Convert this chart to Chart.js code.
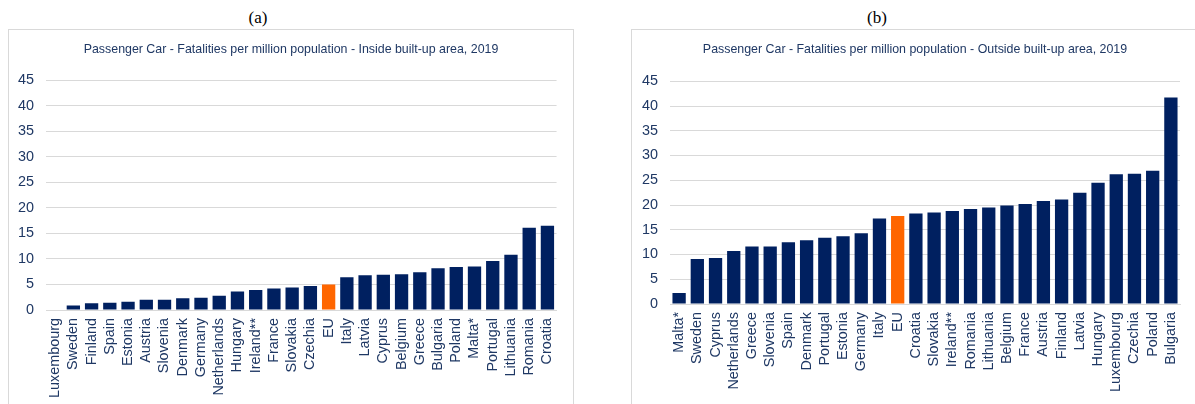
<!DOCTYPE html>
<html>
<head>
<meta charset="utf-8">
<script src="https://cdn.jsdelivr.net/npm/chart.js@4.4.1/dist/chart.umd.min.js"></script>
<style>
  html, body { margin: 0; padding: 0; background: #ffffff; width: 1195px; height: 404px; overflow: hidden; }
  .head { position: absolute; top: 8px; font-family: "Liberation Serif", "Times New Roman", serif; font-size: 17px; color: #000; transform: translateX(-50%); }
  .frame { position: absolute; border: 1px solid #d9d9d9; box-sizing: border-box; background: #fff; }
  .frame canvas { position: absolute; left: 0; top: 0; }
</style>
</head>
<body>
<div class="head" style="left:258px;">(a)</div>
<div class="head" style="left:877px;">(b)</div>
<div class="frame" style="left:8px; top:29px; width:566px; height:378px;"><canvas id="c1" width="564" height="373"></canvas></div>
<div class="frame" style="left:631px; top:29px; width:568px; height:378px;"><canvas id="c2" width="566" height="373"></canvas></div>
<script>
// ---- data ----
const titleA = "Passenger Car - Fatalities per million population - Inside built-up area, 2019";
const titleB = "Passenger Car - Fatalities per million population - Outside built-up area, 2019";

const countriesA = ["Luxembourg","Sweden","Finland","Spain","Estonia","Austria","Slovenia","Denmark","Germany","Netherlands","Hungary","Ireland**","France","Slovakia","Czechia","EU","Italy","Latvia","Cyprus","Belgium","Greece","Bulgaria","Poland","Malta*","Portugal","Lithuania","Romania","Croatia"];
const valuesA = [0, 0.9, 1.3, 1.4, 1.6, 2.0, 2.0, 2.3, 2.4, 2.8, 3.6, 3.9, 4.2, 4.4, 4.7, 5.0, 6.4, 6.8, 6.9, 7.0, 7.4, 8.2, 8.4, 8.5, 9.6, 10.8, 16.1, 16.5];

const countriesB = ["Malta*","Sweden","Cyprus","Netherlands","Greece","Slovenia","Spain","Denmark","Portugal","Estonia","Germany","Italy","EU","Croatia","Slovakia","Ireland**","Romania","Lithuania","Belgium","France","Austria","Finland","Latvia","Hungary","Luxembourg","Czechia","Poland","Bulgaria"];
const valuesB = [2.2, 9.1, 9.3, 10.7, 11.6, 11.6, 12.5, 12.9, 13.4, 13.7, 14.3, 17.3, 17.8, 18.3, 18.5, 18.8, 19.2, 19.5, 19.9, 20.2, 20.8, 21.1, 22.5, 24.5, 26.2, 26.3, 26.9, 41.7];

const yMin = 0, yMax = 45, yStep = 5;
// ---- style ----
const NAVY = "#002060";
const ORANGE = "#FF6600";
const TEXT = "#1F3864";
const GRID = "#d9d9d9";
const FONT = "Liberation Sans, Arial, sans-serif";

function makeChart(id, labels, values, title, cfg) {
  const colors = labels.map(l => l === "EU" ? ORANGE : NAVY);
  return new Chart(document.getElementById(id), {
    type: "bar",
    data: { labels: labels, datasets: [{ data: values, backgroundColor: colors, borderWidth: 0, categoryPercentage: 1.0, barPercentage: 0.73, yAxisID: "y" }] },
    options: {
      responsive: false,
      animation: false,
      layout: { padding: 0 },
      plugins: {
        legend: { display: false },
        tooltip: { enabled: false },
        title: {
          display: true, text: title, color: TEXT,
          font: { family: FONT, size: 12.4, weight: "normal" },
          padding: { top: cfg.titleTop, bottom: cfg.titleBottom }
        }
      },
      scales: {
        x: {
          grid: { display: false, drawTicks: false },
          border: { display: true, color: GRID, width: 1 },
          ticks: { autoSkip: false, maxRotation: 90, minRotation: 90, padding: 8, color: TEXT,
                   font: { family: FONT, size: 14.4 } },
          afterFit: (s) => { s.height = cfg.xH; }
        },
        y: {
          position: "left",
          min: yMin, max: yMax,
          grid: { color: GRID, lineWidth: 1, drawTicks: false },
          border: { display: false },
          ticks: { stepSize: yStep, padding: 12, color: TEXT,
                   font: { family: FONT, size: 14.4 } },
          afterFit: (s) => { s.width = cfg.yW; }
        },
        yR: {
          position: "right",
          min: yMin, max: yMax,
          grid: { display: false, drawTicks: false },
          border: { display: false },
          ticks: { display: false },
          afterFit: (s) => { s.width = cfg.rW; }
        }
      }
    }
  });
}

makeChart("c1", countriesA, valuesA, titleA, { yW: 37, rW: 16, xH: 93, titleTop: 12, titleBottom: 23.4 });
makeChart("c2", countriesB, valuesB, titleB, { yW: 38, rW: 18, xH: 99, titleTop: 12, titleBottom: 24.4 });
</script>
</body>
</html>
